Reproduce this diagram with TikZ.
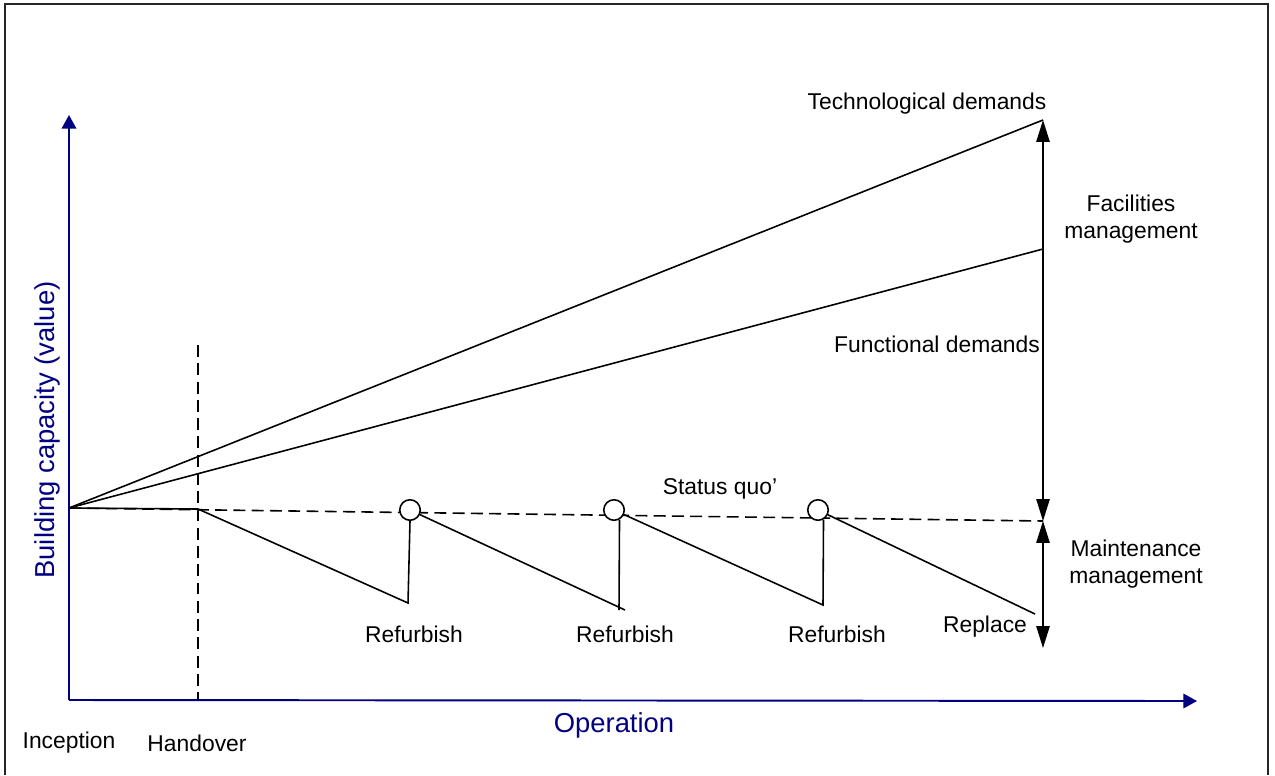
\documentclass[tikz,border=0pt]{standalone}
\usepackage{fontspec}
\setmainfont{Liberation Sans}
\usetikzlibrary{arrows.meta}
\definecolor{axisblue}{RGB}{0,0,128}
\tikzset{
  lbl/.style={font=\fontsize{13}{15.4}\selectfont, inner sep=0pt, align=center},
  axlbl/.style={font=\fontsize{15.6}{18}\selectfont, text=axisblue, inner sep=0pt},
  curve/.style={black, line width=0.9pt},
  dash18/.style={black, line width=0.9pt, dash pattern=on 6.8pt off 3.6pt},
  axis/.style={axisblue, line width=1.1pt, -{Triangle[length=7.7pt,width=8.2pt]}},
  span/.style={black, line width=0.9pt, {Triangle[length=12.5pt,width=7.6pt]}-{Triangle[length=12.5pt,width=7.6pt]}},
  ring/.style={circle, draw=black, fill=white, line width=0.9pt, minimum size=0.41cm, inner sep=0pt},
  frame/.style={black!85, line width=1.1pt}
}
\begin{document}
\begin{tikzpicture}[x=0.02cm, y=-0.02cm]
\useasboundingbox (0,0) rectangle (1275,775);

% outer frame (open at the bottom)
\draw[frame] (5,775) -- (5,4) -- (1268,4) -- (1268,775);

% key points
\coordinate (orig) at (69,700);
\coordinate (ytip) at (69,115);
\coordinate (xtip) at (1197,701);
\coordinate (start) at (69,508);
\coordinate (hand) at (198,509);
\coordinate (handtop) at (198,345);
\coordinate (handbot) at (198,700);
\coordinate (techend) at (1043,120);
\coordinate (funcend) at (1043,249);
\coordinate (sqend) at (1043,521);
\coordinate (mmend) at (1043,648);
\coordinate (low1) at (408,603);
\coordinate (low2) at (625,610);
\coordinate (low3) at (823,605);
\coordinate (low4) at (1035,614);
\coordinate (up2) at (619,610);

% handover marker
\draw[dash18] (handtop) -- (handbot);

% axes
\draw[axis] (orig) -- (ytip);
\draw[axis] (orig) -- (xtip);

% demand lines
\draw[curve] (start) -- (techend);
\draw[curve] (start) -- (funcend);

% status quo baseline
\draw[dash18] (start) -- (sqend);

% refurbishment points
\node[ring] (c1) at (410,510) {};
\node[ring] (c2) at (614,510) {};
\node[ring] (c3) at (818,510) {};

% deterioration and refurbishment cycles
\draw[curve] (start) -- (hand) -- (low1) -- (c1.south);
\draw[curve] (c1) -- (low2);
\draw[curve] (up2) -- (c2.-60);
\draw[curve] (c2) -- (low3) -- (c3.-60);
\draw[curve] (c3) -- (low4);

% management spans
\draw[span] (techend) -- (sqend);
\draw[span] (sqend) -- (mmend);

% labels
\node[lbl] (tech) at (927,104) {Technological demands};
\node[lbl] (fm) at (1131,219) {Facilities\\management};
\node[lbl] (func) at (937,344) {Functional demands};
\node[lbl] (sq) at (720,489) {Status quo’};
\node[lbl] (mm) at (1136,564) {Maintenance\\management};
\node[lbl] (repl) at (985,627) {Replace};
\node[lbl] (r1) at (414,634) {Refurbish};
\node[lbl] (r2) at (625,634) {Refurbish};
\node[lbl] (r3) at (837,634) {Refurbish};
\node[lbl] (incep) at (69,743) {Inception};
\node[lbl] (handl) at (197,743) {Handover};
\node[axlbl] (oper) at (614,725) {Operation};
\node[axlbl, rotate=90] (bcap) at (47,430) {Building capacity (value)};
\end{tikzpicture}
\end{document}
